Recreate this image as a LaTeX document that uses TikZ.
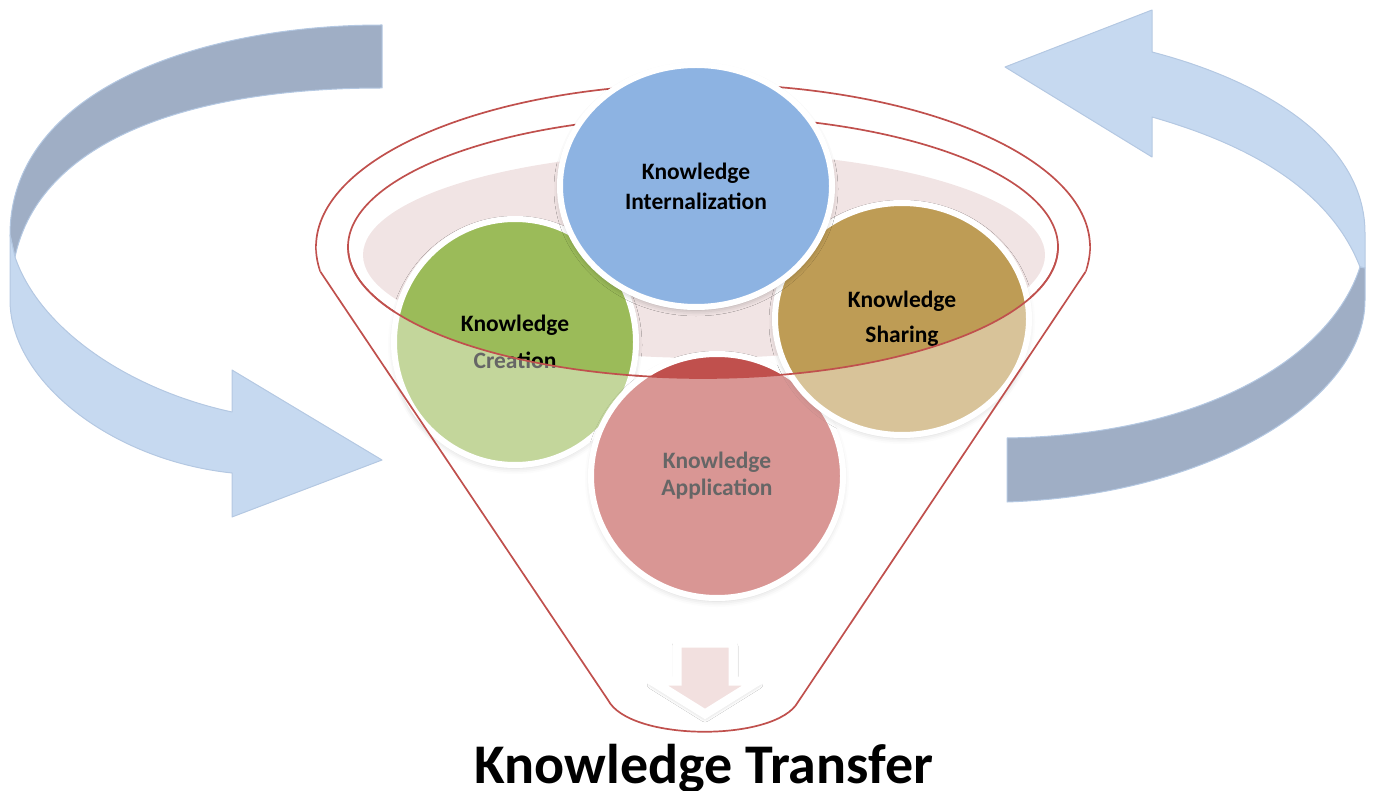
\documentclass[tikz,border=0pt]{standalone}
\usepackage{fontspec}
\setmainfont{Carlito}
\usetikzlibrary{shapes.geometric,shadows.blur}

\definecolor{bandDark}{HTML}{9FAEC5}
\definecolor{bandLight}{HTML}{C6D9F0}
\definecolor{bandEdge}{HTML}{B4C8E2}
\definecolor{funnelRed}{HTML}{C0504D}
\definecolor{kBlue}{HTML}{8DB3E2}
\definecolor{kGreen}{HTML}{9BBB59}
\definecolor{kTan}{HTML}{BE9C55}
\definecolor{kRed}{HTML}{C0504D}
\definecolor{kPink}{HTML}{F1E4E4}
\definecolor{arrowPink}{HTML}{F2E0DF}

\tikzset{
  band/.style={draw=bandEdge, line width=1pt, line join=round},
  funnelline/.style={draw=funnelRed, line width=1.7pt},
  kcircle/.style={ellipse, draw=white, line width=6pt, inner sep=0pt,
    align=center, text=black,
    blur shadow={shadow xshift=0pt, shadow yshift=-3pt,
                 shadow blur radius=6pt, shadow opacity=30}},
}

\begin{document}
\begin{tikzpicture}[x=1pt,y=-1pt]
\useasboundingbox (0,0) rectangle (1376,791);

% ---- left circular arrow ----
\path[band, fill=bandDark]
  (382,25) .. controls (200,25) and (10,90) .. (10,235)
  -- (15,257) .. controls (40,140) and (190,88) .. (382,88) -- cycle;
\path[band, fill=bandLight]
  (10,235) -- (10,300) .. controls (10,380) and (110,460) .. (232,473)
  -- (232,517) -- (382,460) -- (232,370) -- (232,412)
  .. controls (130,390) and (40,330) .. (15,257) -- cycle;

% ---- right circular arrow ----
\path[band, fill=bandLight]
  (1005,67) -- (1152,10) -- (1152,52)
  .. controls (1260,80) and (1365,140) .. (1365,233)
  -- (1365,268) -- (1360,267)
  .. controls (1330,190) and (1250,145) .. (1152,117)
  -- (1152,157) -- cycle;
\path[band, fill=bandDark]
  (1360,267) -- (1365,268) -- (1365,300)
  .. controls (1365,400) and (1210,495) .. (1007,502)
  -- (1007,438) .. controls (1200,435) and (1330,360) .. (1360,267) -- cycle;

% ---- funnel: back rim ----
\begin{scope}
  \clip (0,0) rectangle (1376,272);
  \draw[funnelline] (703,247) ellipse [x radius=387, y radius=163];
\end{scope}
\draw[funnelline] (703,247) ellipse [x radius=355, y radius=131];
\fill[kPink] (704,255) ellipse [x radius=341, y radius=103];

% ---- the four knowledge stages ----
\node[kcircle, fill=kGreen, minimum width=242pt, minimum height=246pt,
      font=\bfseries\fontsize{23.5}{37}\selectfont] (creation) at (515,342)
  {Knowledge\\Creation};
\node[kcircle, fill=kRed, minimum width=252pt, minimum height=244pt,
      font=\bfseries\fontsize{23.5}{27}\selectfont] (application) at (717,476)
  {Knowledge\\Application};
\node[kcircle, fill=kTan, minimum width=254pt, minimum height=232pt,
      font=\bfseries\fontsize{23.5}{35}\selectfont] (sharing) at (902,319)
  {Knowledge\\Sharing};
\node[kcircle, fill=kBlue, minimum width=272pt, minimum height=242pt,
      font=\bfseries\fontsize{23.5}{30}\selectfont] (internal) at (696,186)
  {Knowledge\\Internalization};

% ---- funnel: translucent front wall ----
\begin{scope}
  \clip (0,247) rectangle (1376,791);
  \fill[white, fill opacity=0.4, even odd rule]
    (316,200) -- (316,247) -- (320.6,272) -- (608,700)
    .. controls (630,742) and (776,742) .. (798,702)
    -- (1085.4,272) -- (1090,247) -- (1090,200) -- cycle
    (703,247) ellipse [x radius=355, y radius=131];
  \draw[funnelline] (703,247) ellipse [x radius=355, y radius=131];
\end{scope}

% ---- funnel: sides and spout ----
\coordinate (spoutL) at (608,700);
\coordinate (spoutR) at (798,702);
\draw[funnelline, line join=round]
  (320.6,272) -- (spoutL) .. controls (630,742) and (776,742) .. (spoutR)
  -- (1085.4,272);

% ---- output arrow ----
\path[draw=white, line width=9pt, fill=arrowPink, miter limit=10,
      blur shadow={shadow xshift=0pt, shadow yshift=-3pt,
                   shadow blur radius=5pt, shadow opacity=30}]
  (677,643) -- (733,643) -- (733,681) -- (758,681) -- (705,714)
  -- (652,681) -- (677,681) -- cycle;

% ---- result ----
\node[anchor=base, font=\bfseries\fontsize{56}{60}\selectfont, inner sep=0pt]
  (transfer) at (704,783) {Knowledge Transfer};
\end{tikzpicture}
\end{document}
